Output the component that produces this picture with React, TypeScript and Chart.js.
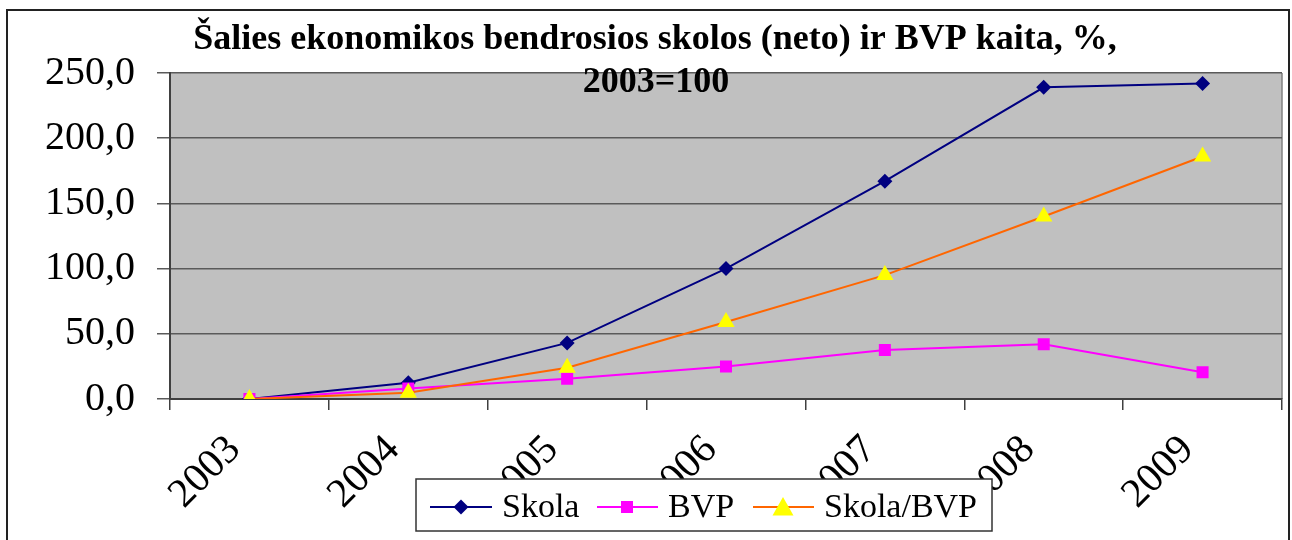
import React, { useEffect, useRef } from "react";
import { Chart, registerables } from "chart.js";

Chart.register(...registerables);

const years = ["2003", "2004", "2005", "2006", "2007", "2008", "2009"];
const skola = [0, 12.5, 43, 100, 167, 239, 242];
const bvp = [0, 8, 15.5, 25, 37.5, 42, 20.5];
const skolaBvp = [0, 4.8, 24, 59, 95, 140, 186];
const titleLines = ["Šalies ekonomikos bendrosios skolos (neto) ir BVP kaita, %,", "2003=100"];
const legendLabels = ["Skola", "BVP", "Skola/BVP"];

const NAVY = "#000080";
const MAGENTA = "#FF00FF";
const ORANGE = "#FF6600";
const YELLOW = "#FFFF00";

function marker(ctx: CanvasRenderingContext2D, style: string, x: number, y: number, r: number) {
  ctx.beginPath();
  if (style === "rectRot") {
    ctx.moveTo(x, y - r); ctx.lineTo(x + r, y); ctx.lineTo(x, y + r); ctx.lineTo(x - r, y);
  } else if (style === "rect") {
    ctx.rect(x - r, y - r, 2 * r, 2 * r);
  } else {
    ctx.moveTo(x, y - r); ctx.lineTo(x + r * 1.05, y + r * 0.85); ctx.lineTo(x - r * 1.05, y + r * 0.85);
  }
  ctx.closePath();
  ctx.fill();
}

export default function App() {
  const ref = useRef<HTMLCanvasElement>(null);

  useEffect(() => {
    const canvas = ref.current!;
    const decor = {
      id: "decor",
      beforeDraw(chart: any) {
        const { ctx, chartArea: a } = chart;
        ctx.save();
        ctx.fillStyle = "#fff";
        ctx.fillRect(0, 0, chart.width, chart.height);
        ctx.fillStyle = "#C0C0C0";
        ctx.fillRect(a.left, a.top, a.right - a.left, a.bottom - a.top);
        ctx.strokeStyle = "#808080";
        ctx.lineWidth = 1.5;
        ctx.beginPath();
        ctx.moveTo(a.right, a.top);
        ctx.lineTo(a.right, a.bottom);
        ctx.stroke();
        ctx.restore();
      },
      afterDraw(chart: any) {
        const { ctx } = chart;
        ctx.save();
        ctx.strokeStyle = "#222";
        ctx.lineWidth = 2;
        ctx.strokeRect(7, 10, 1282, 560);
        ctx.fillStyle = "#000";
        ctx.textAlign = "center";
        ctx.textBaseline = "alphabetic";
        ctx.font = "bold 36px 'Liberation Serif'";
        ctx.fillText(titleLines[0], 655, 49);
        ctx.fillText(titleLines[1], 656, 92);
        const lx = 416, ly = 479, lw = 576, lh = 52;
        ctx.fillStyle = "#fff";
        ctx.fillRect(lx, ly, lw, lh);
        ctx.strokeStyle = "#333";
        ctx.lineWidth = 1.5;
        ctx.strokeRect(lx, ly, lw, lh);
        const cy = 507;
        const items = [
          { x0: 430, x1: 492, mx: 461, tx: 502, line: NAVY, style: "rectRot", fill: NAVY, r: 7.5 },
          { x0: 597, x1: 658, mx: 627, tx: 668, line: MAGENTA, style: "rect", fill: MAGENTA, r: 6 },
          { x0: 753, x1: 814, mx: 783, tx: 824, line: ORANGE, style: "triangle", fill: YELLOW, r: 10 },
        ];
        items.forEach((it, i) => {
          ctx.strokeStyle = it.line;
          ctx.lineWidth = 2;
          ctx.beginPath();
          ctx.moveTo(it.x0, cy);
          ctx.lineTo(it.x1, cy);
          ctx.stroke();
          ctx.fillStyle = it.fill;
          marker(ctx, it.style, it.mx, cy, it.r);
          ctx.fillStyle = "#000";
          ctx.textAlign = "left";
          ctx.textBaseline = "middle";
          ctx.font = "34px 'Liberation Serif'";
          ctx.fillText(legendLabels[i], it.tx, cy + 1);
        });
        ctx.restore();
      },
    };

    const chart = new Chart(canvas, {
      type: "line",
      data: {
        labels: years,
        datasets: [
          { label: legendLabels[0], data: skola, borderColor: NAVY, backgroundColor: NAVY, borderWidth: 2, pointStyle: "rectRot", pointRadius: 7.5, pointBorderWidth: 0, order: 2 },
          { label: legendLabels[1], data: bvp, borderColor: MAGENTA, backgroundColor: MAGENTA, borderWidth: 2, pointStyle: "rect", pointRadius: 8.5, pointBorderWidth: 0, order: 1 },
          { label: legendLabels[2], data: skolaBvp, borderColor: ORANGE, backgroundColor: YELLOW, borderWidth: 2, pointStyle: "triangle", pointRadius: 10, pointBorderWidth: 0, order: 0 },
        ],
      },
      options: {
        responsive: false,
        animation: false,
        layout: { padding: { top: 73, right: 5, left: 0, bottom: 0 } },
        plugins: { legend: { display: false }, title: { display: false }, tooltip: { enabled: false } },
        scales: {
          x: {
            offset: true,
            grid: { offset: true, drawOnChartArea: false, drawTicks: true, tickLength: 11, color: "#404040", lineWidth: 1.5 },
            border: { display: true, color: "#404040", width: 2 },
            ticks: {
              color: "#000",
              font: { family: "'Liberation Serif'", size: 41 },
              minRotation: 45,
              maxRotation: 45,
              padding: 16,
              labelOffset: -15,
              autoSkip: false,
            },
            afterFit: (s: any) => { s.height = 141; },
          },
          y: {
            min: 0,
            max: 250,
            grid: { color: "#5a5a5a", lineWidth: 1.5, tickLength: 13 },
            border: { display: true, color: "#404040", width: 2 },
            ticks: {
              stepSize: 50,
              color: "#000",
              padding: 22,
              font: { family: "'Liberation Serif'", size: 40 },
              callback: (v: any) => Number(v).toFixed(1).replace(".", ","),
            },
            afterFit: (s: any) => { s.width = 170; },
          },
        },
      },
      plugins: [decor],
    });
    return () => chart.destroy();
  }, []);

  return (
    <div style={{ position: "fixed", left: 0, top: 0, width: 1292, height: 540, background: "#fff" }}>
      <canvas ref={ref} width={1292} height={540} style={{ display: "block" }} />
    </div>
  );
}
